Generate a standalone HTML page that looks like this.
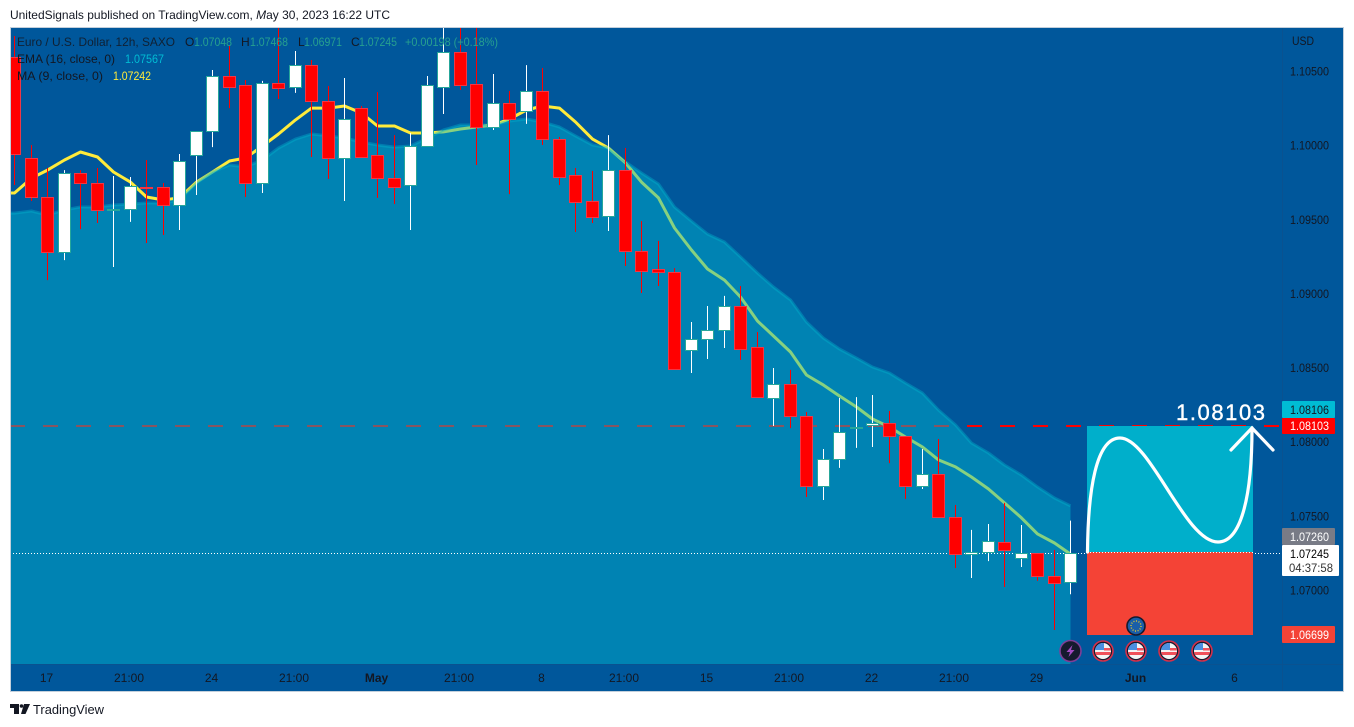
<!DOCTYPE html>
<html lang="en">
<head>
<meta charset="utf-8">
<title>EUR/USD 12h chart</title>
<style>
html,body{margin:0;padding:0;background:#fff;width:1354px;height:727px;overflow:hidden}
svg{display:block}
text{font-family:"Liberation Sans",sans-serif;font-size:12px;fill:#131722}
.num{font-size:12px}
</style>
</head>
<body>
<svg id="root" xmlns="http://www.w3.org/2000/svg" width="1354" height="727" viewBox="0 0 1354 727">
<defs>
<clipPath id="plot-clip"><rect x="10" y="27" width="1272" height="637"/></clipPath>
<clipPath id="flag-clip"><circle cx="0" cy="0" r="8"/></clipPath>
</defs>
<text x="10" y="19" textLength="380" lengthAdjust="spacingAndGlyphs">UnitedSignals published on TradingView.com, <tspan font-style="italic">M</tspan>ay 30, 2023 16:22 UTC</text>
<rect x="10" y="27" width="1333" height="664" fill="#00579b"/>
<g clip-path="url(#plot-clip)">
  <line x1="10" x2="1282" y1="426" y2="426" stroke="#ff0000" stroke-width="2" stroke-dasharray="15 18"/>
  <path id="ma-line" fill="none" stroke="#ffeb3b" stroke-width="3" stroke-linejoin="round"/>
  <path id="ema-area" fill="#00b5ce" fill-opacity="0.47"/>
  <path id="ema-line" fill="none" stroke="#00b5ce" stroke-opacity="0.4" stroke-width="3" stroke-linejoin="round"/>
  <line id="last-price-line" x1="10" x2="1282" stroke="#fff" stroke-width="1" stroke-dasharray="1 2"/>
  <g id="candles"></g>
  <rect x="1087" y="426" width="166" height="126" fill="#00afcb"/>
  <rect x="1087" y="552" width="166" height="83" fill="#f44336"/>
  <line x1="1087" x2="1253" y1="552.5" y2="552.5" stroke="#fff" stroke-width="1" stroke-dasharray="1 2"/>
</g>
<path d="M1087.5 552 C1088 490 1096 438 1120 438 C1150 438 1185 542 1218 542 C1240 542 1252 500 1252 428" fill="none" stroke="#fff" stroke-width="3.2" stroke-linecap="round"/>
<path d="M1231 450 L1252 428 L1273 450" fill="none" stroke="#fff" stroke-width="3.2" stroke-linecap="round" stroke-linejoin="miter"/>
<text x="1176" y="420" style="font-size:22px;fill:#fff;stroke:#fff;stroke-width:.4px" textLength="89">1.08103</text>

<g>
<text x="17" y="46" textLength="158" lengthAdjust="spacingAndGlyphs" fill-opacity=".85">Euro / U.S. Dollar, 12h, SAXO</text>
<text x="185" y="46">O</text>
<text x="194" y="46" textLength="38" style="fill:#26a08f" lengthAdjust="spacingAndGlyphs">1.07048</text>
<text x="241" y="46">H</text>
<text x="250" y="46" textLength="38" style="fill:#26a08f" lengthAdjust="spacingAndGlyphs">1.07468</text>
<text x="298" y="46">L</text>
<text x="304" y="46" textLength="38" style="fill:#26a08f" lengthAdjust="spacingAndGlyphs">1.06971</text>
<text x="351" y="46">C</text>
<text x="359" y="46" textLength="38" style="fill:#26a08f" lengthAdjust="spacingAndGlyphs">1.07245</text>
<text x="405" y="46" textLength="93" style="fill:#26a08f" lengthAdjust="spacingAndGlyphs">+0.00198 (+0.18%)</text>
<text x="17" y="63" textLength="98" lengthAdjust="spacingAndGlyphs">EMA (16, close, 0)</text>
<text x="125" y="63" textLength="39" style="fill:#00bcd4" lengthAdjust="spacingAndGlyphs">1.07567</text>
<text x="17" y="80" textLength="86" lengthAdjust="spacingAndGlyphs">MA (9, close, 0)</text>
<text x="113" y="80" textLength="38" style="fill:#ffeb3b" lengthAdjust="spacingAndGlyphs">1.07242</text>
</g>

<g>
<line x1="1282.5" x2="1282.5" y1="27" y2="691" stroke="#0a5290"/>
<text x="1292" y="45" textLength="22" lengthAdjust="spacingAndGlyphs">USD</text>
<g id="price-ticks"></g>
<rect x="1282" y="401" width="53" height="17" rx="1" fill="#00bcd4"/>
<text x="1290" y="414" textLength="39" lengthAdjust="spacingAndGlyphs">1.08106</text>
<rect x="1282" y="418" width="53" height="16" rx="1" fill="#ff0000"/>
<text x="1290" y="430" textLength="39" lengthAdjust="spacingAndGlyphs" style="fill:#fff">1.08103</text>
<rect x="1282" y="528" width="53" height="17" rx="1" fill="#787b86"/>
<text x="1290" y="541" textLength="39" lengthAdjust="spacingAndGlyphs" style="fill:#fff">1.07260</text>
<rect x="1282" y="545" width="57" height="31" rx="1" fill="#fff"/>
<text x="1290" y="558" textLength="39" lengthAdjust="spacingAndGlyphs" style="fill:#000">1.07245</text>
<text x="1289" y="572" textLength="44" lengthAdjust="spacingAndGlyphs" style="fill:#333">04:37:58</text>
<rect x="1282" y="626" width="53" height="17" rx="1" fill="#f44336"/>
<text x="1290" y="639" textLength="39" lengthAdjust="spacingAndGlyphs" style="fill:#fff">1.06699</text>
</g>

<g>
<line x1="10" x2="1343" y1="664.5" y2="664.5" stroke="#0a5290"/>
<g id="time-ticks"></g>
</g>

<g>
<g transform="translate(1070.5,651)">
  <circle r="10.5" fill="#151a2e" stroke="#7e3f98" stroke-width="1.6"/>
  <path d="M2 -6 L-4 1 L-0.5 1 L-2 6 L4 -1 L0.5 -1 Z" fill="#a44bc4"/>
</g>
<g id="flags"></g>
<g transform="translate(1136,626)">
  <circle r="9" fill="#1a5ea8" stroke="#151a2e" stroke-width="1.6"/>
  <circle r="5" fill="none" stroke="#e6c72e" stroke-width="1.4" stroke-dasharray="1 1.6"/>
</g>
</g>

<rect x="10.5" y="27.5" width="1333" height="664" fill="none" stroke="#c3cfdb"/>
<g fill="#131722">
  <path d="M10 704 H19 V714 H14 V708 H10 Z"/>
  <circle cx="21.5" cy="706" r="1.8"/>
  <path d="M24 704 H30 L25.5 714 H21 Z"/>
</g>
<text x="33" y="714" style="font-size:13px" textLength="71" lengthAdjust="spacingAndGlyphs">TradingView</text>
</svg>
<script>
var opens=[1.10594,1.09913,1.09650,1.09279,1.09812,1.09738,1.09563,1.09563,1.09715,1.09711,1.09596,1.09927,1.10089,1.10466,1.10399,1.09738,1.10419,1.10392,1.10534,1.10291,1.09913,1.10250,1.09927,1.09772,1.09731,1.09994,1.10392,1.10628,1.10406,1.10122,1.10284,1.10230,1.10365,1.10041,1.09792,1.09617,1.09522,1.09826,1.09286,1.09158,1.09138,1.08618,1.08686,1.08747,1.08915,1.08632,1.08288,1.08389,1.08173,1.07695,1.07883,1.08086,1.08106,1.08126,1.08038,1.07701,1.07782,1.07492,1.07236,1.07256,1.07317,1.07209,1.07243,1.07094,1.07048];
var highs=[1.10736,1.10001,1.09846,1.09832,1.09832,1.09846,1.09792,1.09785,1.09900,1.09745,1.09940,1.10095,1.10507,1.10669,1.10439,1.10433,1.10844,1.10635,1.10574,1.10399,1.10453,1.10264,1.10358,1.10068,1.10082,1.10466,1.10844,1.10844,1.10844,1.10480,1.10365,1.10540,1.10520,1.10055,1.09846,1.09826,1.10068,1.09981,1.09488,1.09354,1.09171,1.08807,1.08915,1.08983,1.09050,1.08740,1.08497,1.08484,1.08200,1.07951,1.08295,1.08301,1.08315,1.08207,1.08038,1.07951,1.08018,1.07573,1.07405,1.07445,1.07587,1.07438,1.07243,1.07270,1.07468];
var lows=[1.09731,1.09623,1.09090,1.09225,1.09434,1.09475,1.09178,1.09482,1.09340,1.09394,1.09428,1.09664,1.09987,1.10250,1.09650,1.09677,1.10311,1.10352,1.09920,1.09772,1.09623,1.09920,1.09644,1.09603,1.09428,1.09994,1.10210,1.10372,1.09866,1.10102,1.09670,1.10143,1.10001,1.09731,1.09414,1.09475,1.09421,1.09185,1.09003,1.09050,1.08484,1.08463,1.08558,1.08632,1.08551,1.08295,1.08106,1.08092,1.07627,1.07607,1.07823,1.07958,1.07964,1.07856,1.07614,1.07681,1.07492,1.07148,1.07081,1.07195,1.07020,1.07155,1.07061,1.06730,1.06971];
var closes=[1.09934,1.09650,1.09279,1.09812,1.09738,1.09556,1.09564,1.09718,1.09708,1.09596,1.09893,1.10089,1.10466,1.10392,1.09738,1.10419,1.10385,1.10534,1.10291,1.09913,1.10176,1.09920,1.09772,1.09711,1.09994,1.10399,1.10628,1.10399,1.10122,1.10284,1.10176,1.10365,1.10041,1.09785,1.09610,1.09515,1.09826,1.09286,1.09151,1.09138,1.08490,1.08686,1.08747,1.08915,1.08625,1.08295,1.08389,1.08167,1.07695,1.07883,1.08065,1.08099,1.08126,1.08032,1.07701,1.07782,1.07492,1.07236,1.07256,1.07324,1.07263,1.07243,1.07088,1.07047,1.07245];
var ema16=[1.09542,1.09556,1.09529,1.09563,1.09583,1.09583,1.09596,1.09603,1.09610,1.09610,1.09630,1.09745,1.09819,1.09866,1.09853,1.09900,1.09981,1.10041,1.10075,1.10062,1.10048,1.10021,1.10001,1.09987,1.09994,1.10048,1.10102,1.10136,1.10136,1.10136,1.10163,1.10176,1.10156,1.10122,1.10062,1.10001,1.09981,1.09886,1.09812,1.09738,1.09583,1.09488,1.09401,1.09347,1.09246,1.09138,1.09043,1.08956,1.08807,1.08699,1.08625,1.08564,1.08504,1.08463,1.08396,1.08328,1.08214,1.08113,1.07991,1.07924,1.07843,1.07775,1.07695,1.07620,1.07567];
var ma9=[1.09677,1.09778,1.09832,1.09900,1.09954,1.09920,1.09819,1.09751,1.09650,1.09630,1.09644,1.09751,1.09819,1.09893,1.09913,1.09994,1.10075,1.10170,1.10250,1.10250,1.10264,1.10217,1.10129,1.10129,1.10082,1.10082,1.10089,1.10109,1.10122,1.10136,1.10176,1.10237,1.10264,1.10250,1.10156,1.10041,1.09981,1.09880,1.09751,1.09644,1.09441,1.09293,1.09165,1.09090,1.08976,1.08814,1.08713,1.08605,1.08450,1.08382,1.08308,1.08234,1.08153,1.08099,1.08032,1.07964,1.07877,1.07830,1.07762,1.07681,1.07587,1.07486,1.07378,1.07317,1.07242];
var priceTicks=[1.105,1.100,1.095,1.090,1.085,1.080,1.075,1.070];
var timeTickBars=[2,7,12,17,22,27,32,37,42,47,52,57,62,68,74];
var timeTickLabels=["17","21:00","24","21:00","May","21:00","8","21:00","15","21:00","22","21:00","29","Jun","6"];
var lastPrice=1.07245;

(function(){
var NS="http://www.w3.org/2000/svg";
function yScale(p){return 71+(1.105-p)*14828;}
function xRaw(i){return 14.5+16.5*i;}
function xScale(i){return Math.floor(xRaw(i))+0.5;}
function crisp(v){return Math.floor(v)+0.5;}
function el(tag,parent){var e=document.createElementNS(NS,tag);parent.appendChild(e);return e;}
function linePath(vals){
  var d="M"+xScale(-1)+" "+yScale(vals[0]).toFixed(1)+" ";
  for(var i=0;i<vals.length;i++){d+="L"+xScale(i)+" "+yScale(vals[i]).toFixed(1)+" ";}
  return d;
}

document.getElementById("ma-line").setAttribute("d",linePath(ma9));
var emaD=linePath(ema16);
document.getElementById("ema-line").setAttribute("d",emaD);
document.getElementById("ema-area").setAttribute("d",emaD+"L"+xScale(ema16.length-1)+" 664 L"+xScale(-1)+" 664 Z");
var ly=crisp(yScale(lastPrice));
var lp=document.getElementById("last-price-line");
lp.setAttribute("y1",ly);
lp.setAttribute("y2",ly);

var cg=document.getElementById("candles");
for(var i=0;i<opens.length;i++){
  var up=closes[i]>=opens[i];
  var cx=xScale(i);
  var wick=el("line",cg);
  
  
  wick.setAttribute("x1",cx);
  wick.setAttribute("x2",cx);
  wick.setAttribute("y1",yScale(highs[i]).toFixed(1));
  wick.setAttribute("y2",yScale(lows[i]).toFixed(1));
  wick.setAttribute("stroke",up?"#ffffff":"#ff0000");
  wick.setAttribute("stroke-width","1");
  var bodyTop=crisp(yScale(Math.max(opens[i],closes[i])));
  var bodyBot=crisp(yScale(Math.min(opens[i],closes[i])));
  var body=el("rect",cg);
  
  
  body.setAttribute("x",cx-6);
  body.setAttribute("width",12);
  body.setAttribute("y",bodyTop);
  body.setAttribute("height",Math.max(bodyBot-bodyTop,1));
  body.setAttribute("fill",up?"#ffffff":"#ff0000");
  body.setAttribute("stroke",up?"#26a69a":"#f23645");
}

var pg=document.getElementById("price-ticks");
priceTicks.forEach(function(p){
  var t=el("text",pg);
  
  
  t.setAttribute("x",1290);
  t.setAttribute("y",yScale(p)+4.5);
  t.setAttribute("textLength",39);
  t.setAttribute("lengthAdjust","spacingAndGlyphs");
  t.textContent=p.toFixed(5);
});

var tg=document.getElementById("time-ticks");
timeTickLabels.forEach(function(s,k){
  var t=el("text",tg);
  
  
  t.setAttribute("x",xRaw(timeTickBars[k])-1);
  t.setAttribute("y",682);
  t.setAttribute("text-anchor","middle");
  if(s==="May"||s==="Jun"){t.setAttribute("font-weight","bold");}
  t.textContent=s;
});

var fg=document.getElementById("flags");
[1103,1136,1169,1202].forEach(function(fx){
  var g=el("g",fg);
  
  
  g.setAttribute("transform","translate("+fx+",651)");
  var ring=el("circle",g);
  ring.setAttribute("r",10);
  ring.setAttribute("fill","#151a2e");
  ring.setAttribute("stroke","#d5304a");
  ring.setAttribute("stroke-width","1.6");
  var inner=el("g",g);
  inner.setAttribute("clip-path","url(#flag-clip)");
  var w=el("rect",inner);
  w.setAttribute("x",-8);w.setAttribute("y",-8);w.setAttribute("width",16);w.setAttribute("height",16);w.setAttribute("fill","#f4f4f4");
  var b=el("rect",inner);
  b.setAttribute("x",-8);b.setAttribute("y",-8);b.setAttribute("width",9);b.setAttribute("height",7);b.setAttribute("fill","#4a8fe0");
  var r1=el("rect",inner);
  r1.setAttribute("x",1);r1.setAttribute("y",-3);r1.setAttribute("width",8);r1.setAttribute("height",2.5);r1.setAttribute("fill","#f0505a");
  var r2=el("rect",inner);
  r2.setAttribute("x",-8);r2.setAttribute("y",1);r2.setAttribute("width",16);r2.setAttribute("height",3);r2.setAttribute("fill","#f0505a");
});
})();
</script>
</body>
</html>
